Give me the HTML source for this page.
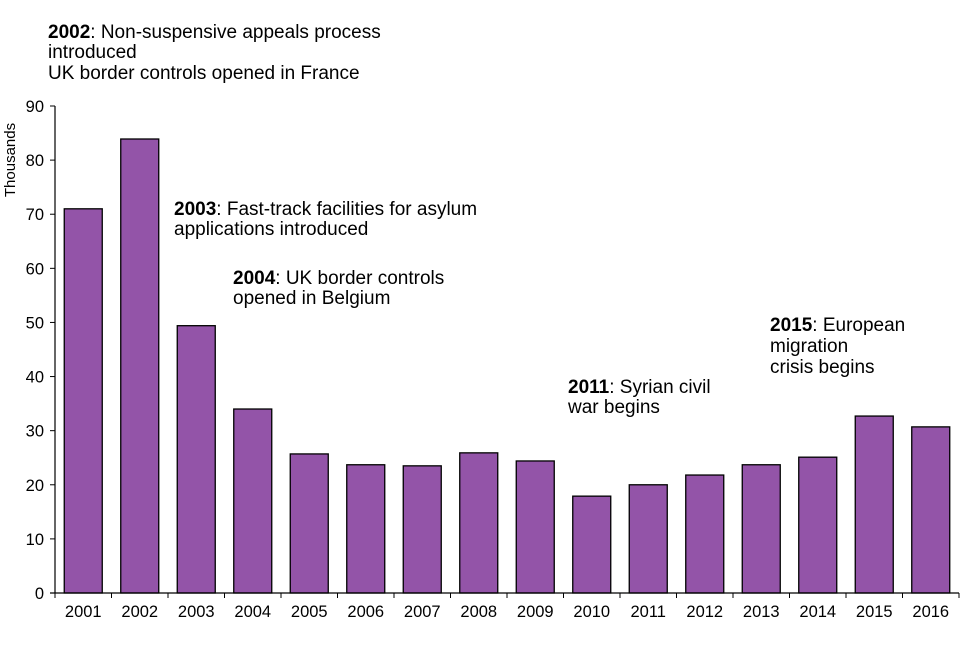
<!DOCTYPE html>
<html><head><meta charset="utf-8"><style>
body{margin:0;background:#fff}
svg text{font-family:"Liberation Sans",Arial,sans-serif;fill:#000}
</style></head><body>
<svg id="chart" width="960" height="640" viewBox="0 0 960 640">
<g id="annotations" font-size="19">
<text x="48" y="38"><tspan font-weight="bold">2002</tspan>: Non-suspensive appeals process<tspan x="48" dy="20">introduced</tspan><tspan x="48" dy="21">UK border controls opened in France</tspan></text>
<text x="174" y="215"><tspan font-weight="bold">2003</tspan>: Fast-track facilities for asylum<tspan x="174" dy="20">applications introduced</tspan></text>
<text x="233" y="284"><tspan font-weight="bold">2004</tspan>: UK border controls<tspan x="233" dy="20">opened in Belgium</tspan></text>
<text x="568" y="393"><tspan font-weight="bold">2011</tspan>: Syrian civil<tspan x="568" dy="20">war begins</tspan></text>
<text x="770" y="331"><tspan font-weight="bold">2015</tspan>: European<tspan x="770" dy="21">migration</tspan><tspan x="770" dy="21">crisis begins</tspan></text>
</g>
<text transform="translate(15,160) rotate(-90)" text-anchor="middle" font-size="15">Thousands</text>
<g id="plot"></g>
</svg>
<script>
const categories=["2001","2002","2003","2004","2005","2006","2007","2008","2009","2010","2011","2012","2013","2014","2015","2016"];
const values=[71.0,83.9,49.4,34.0,25.7,23.7,23.5,25.9,24.4,17.9,20.0,21.8,23.7,25.1,32.7,30.7];
const yTicks=[0,10,20,30,40,50,60,70,80,90];
const NS="http://www.w3.org/2000/svg";
const g=document.getElementById('plot');
const x0=55,step=56.5,y0=593,yMax=90,yTop=106;
const y=v=>y0-(v/yMax)*(y0-yTop);
const xc=i=>x0+step*(i+0.5);
function mk(t,a){const e=document.createElementNS(NS,t);for(const k in a)e.setAttribute(k,a[k]);g.appendChild(e);return e;}
values.forEach((v,i)=>{
 const r=mk('rect',{x:xc(i)-19,y:y(v),width:38,height:y0-y(v),fill:'#9354a8',stroke:'#000','stroke-width':1.3});
 
 
 const t=mk('text',{x:xc(i),y:617,'text-anchor':'middle','font-size':16.5});
 t.textContent=categories[i];
 
 
});
for(let i=0;i<=categories.length;i++){
 const l=mk('line',{x1:x0+step*i,x2:x0+step*i,y1:y0,y2:y0+5,stroke:'#000'});
 
 
}
yTicks.forEach(v=>{
 const l=mk('line',{x1:x0-5,x2:x0,y1:y(v),y2:y(v),stroke:'#000'});
 
 
 const t=mk('text',{x:x0-11,y:y(v)+6,'text-anchor':'end','font-size':16.5});
 t.textContent=v;
 
 
});
const ya=mk('line',{x1:x0,x2:x0,y1:yTop,y2:y0,stroke:'#000','stroke-width':1.2});


const xa=mk('line',{x1:x0-5,x2:x0+step*categories.length,y1:y0,y2:y0,stroke:'#000','stroke-width':1.2});


</script>
</body></html>
